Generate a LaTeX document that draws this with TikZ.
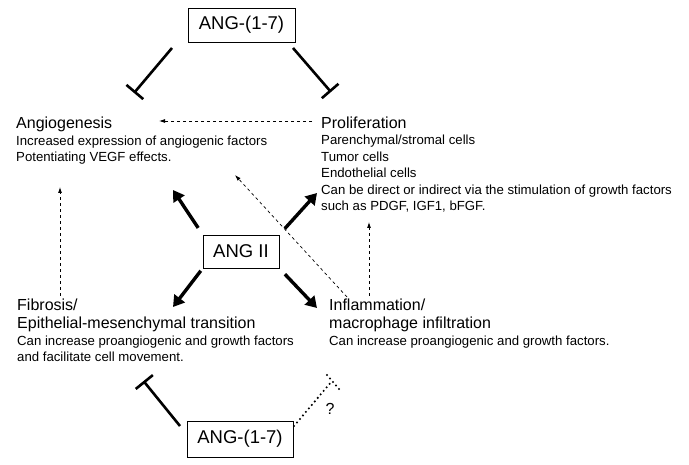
\documentclass[tikz,border=0pt]{standalone}
\usepackage{fontspec}
\setmainfont{Liberation Sans}
\usetikzlibrary{arrows.meta}
\tikzset{>={Latex[width=4pt,length=6pt]}}
\tikzset{
  angbox/.style={draw, line width=0.8pt, inner sep=0pt, font=\fontsize{18.5}{19}\selectfont},
  title/.style={anchor=base west, inner sep=0pt, align=left, font=\fontsize{16}{18}\selectfont},
  body/.style={anchor=base west, inner sep=0pt, align=left, font=\fontsize{13.2}{16.5}\selectfont},
  stim/.style={-{Triangle[width=13pt,length=11pt]}, line width=3.4pt},
  inhib/.style={-{Bar[width=22pt]}, line width=2.6pt},
  weak/.style={->, dashed, line width=0.8pt},
  dotinhib/.style={line width=2.3pt, line cap=round, dash pattern=on 0pt off 4.6pt},
}
\begin{document}
\begin{tikzpicture}[x=1pt,y=-1pt]
  \useasboundingbox (0,0) rectangle (689,465);

  \node[angbox, minimum width=107pt, minimum height=34pt] (topang) at (241.5,25) {ANG-(1-7)};
  \node[angbox, minimum width=76pt, minimum height=33pt] (angII) at (241,251.5) {ANG II};
  \node[angbox, minimum width=106pt, minimum height=36pt] (botang) at (240,439) {ANG-(1-7)};

  %% text blocks (base = last line)
  \node[title] (angio) at (16,129) {Angiogenesis};
  \node[body] (angiotxt) at (16,162) {Increased expression of angiogenic factors\\
    Potentiating VEGF effects.};
  \node[title] (prolif) at (321,129) {Proliferation};
  \node[body] (prolitxt) at (321,211) {Parenchymal/stromal cells\\Tumor cells\\
    Endothelial cells\\Can be direct or indirect via the stimulation of growth factors\\
    such as PDGF, IGF1, bFGF.};
  \node[title] (fibro) at (17,329) {Fibrosis/\\Epithelial-mesenchymal transition};
  \node[body] (fibrotxt) at (17,362) {Can increase proangiogenic and growth factors\\
    and facilitate cell movement.};
  \node[title] (inflam) at (329,329) {Inflammation/\\macrophage infiltration};
  \node[body] (inflamtxt) at (329,345.5) {Can increase proangiogenic and growth factors.};

  %% free ends
  \coordinate (t1a) at (172,48);   \coordinate (t1b) at (134,93);
  \coordinate (t2a) at (293,48);   \coordinate (t2b) at (331,92);
  \coordinate (t3a) at (180,426);  \coordinate (t3b) at (143.5,381);
  \coordinate (t4a) at (294,426);  \coordinate (t4b) at (332,381);
  \coordinate (hul) at (173,190);  \coordinate (hur) at (317,193);
  \coordinate (hdl) at (173,307);  \coordinate (hdr) at (317,308);
  \coordinate (hang) at (159,121); \coordinate (hmid) at (235,175);
  \coordinate (hvl) at (60,187);   \coordinate (hvr) at (369,222);

  %% ANG-(1-7) inhibition
  \draw[inhib] (t1a) -- (t1b);
  \draw[inhib] (t2a) -- (t2b);
  \draw[inhib] (t3a) -- (t3b);
  \draw[dotinhib] (t4a) -- (t4b);
  \draw[dotinhib] (327,375) -- (339,389);
  \node[font=\fontsize{16}{16}\selectfont, inner sep=0pt] (qmark) at (330,409) {?};

  %% ANG II
  \draw[stim, shorten <=8pt] (angII.north west) -- (hul);
  \draw[stim, shorten <=8pt] (angII.north east) -- (hur);
  \draw[stim, shorten <=3pt] (angII.south west) -- (hdl);
  \draw[stim, shorten <=8pt] (angII.south east) -- (hdr);

  %% indirect effects
  \draw[weak] (312,121) -- (hang);
  \draw[weak] (60,296) -- (hvl);
  \draw[weak] (369,296) -- (hvr);
  \draw[->, dashed, line width=0.7pt] (347,297) -- (hmid);

\end{tikzpicture}
\end{document}
